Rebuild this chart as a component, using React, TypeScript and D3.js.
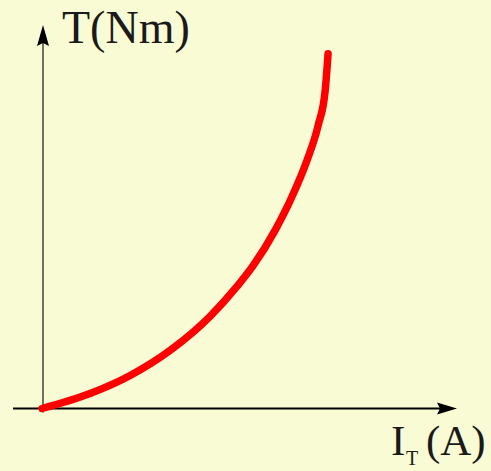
import React from "react";
import * as d3 from "d3";

// Curve data (arbitrary units)
const currentI = [0, 1.16, 2.13, 3.09, 4.06, 4.71, 5.1, 5.63, 6.04, 6.4, 6.67, 6.84, 6.91];
const torqueT = [0, 0.39, 0.86, 1.51, 2.4, 3.18, 3.72, 4.64, 5.52, 6.46, 7.37, 8.28, 9.24];
const yAxisLabel = "T(Nm)";
const xAxisLabelMain = "I";
const xAxisLabelSub = "T";
const xAxisLabelTail = "(A)";

const W = 491;
const H = 471;

export default function App() {
  const x = d3.scaleLinear().domain([0, 10]).range([42, 456]);
  const y = d3.scaleLinear().domain([0, 10]).range([408.5, 24.5]);
  const pts: [number, number][] = currentI.map((v, i) => [v, torqueT[i]]);
  const line = d3
    .line<[number, number]>()
    .x((d) => x(d[0]))
    .y((d) => y(d[1]))
    .curve(d3.curveMonotoneX);

  const ox = 43;
  const oy = y(0);
  const yTop = 25;
  const xRight = 457;

  return (
    <svg
      width={W}
      height={H}
      style={{ position: "absolute", left: 0, top: 0, display: "block" }}
      fontFamily="'Liberation Serif', 'DejaVu Serif', serif"
    >
      <rect x={0} y={0} width={W} height={H} fill="#f8fbd3" />
      {/* vertical axis */}
      <line x1={ox} y1={oy + 4} x2={ox} y2={yTop + 16} stroke="#6f6f62" strokeWidth={2} />
      <path
        d={`M${ox},${yTop} L${ox + 6},${yTop + 21} L${ox},${yTop + 18} L${ox - 6},${yTop + 21} Z`}
        fill="#000"
      />
      {/* horizontal axis */}
      <line x1={13} y1={oy} x2={xRight - 16} y2={oy} stroke="#000" strokeWidth={2} />
      <path
        d={`M${xRight},${oy} L${xRight - 20},${oy - 6} L${xRight - 17},${oy} L${xRight - 20},${oy + 6} Z`}
        fill="#000"
      />
      {/* curve */}
      <path
        d={line(pts) || ""}
        fill="none"
        stroke="#ff0000"
        strokeWidth={7.5}
        strokeLinecap="round"
        strokeLinejoin="round"
      />
      {/* labels */}
      <text x={62} y={43} fontSize={46} fill="#1a1a1a">
        {yAxisLabel}
      </text>
      <text x={391} y={455} fontSize={43} fill="#1a1a1a">
        {xAxisLabelMain}
      </text>
      <text x={406} y={465} fontSize={20} fill="#1a1a1a">
        {xAxisLabelSub}
      </text>
      <text x={426} y={455} fontSize={43} fill="#1a1a1a">
        {xAxisLabelTail}
      </text>
    </svg>
  );
}
